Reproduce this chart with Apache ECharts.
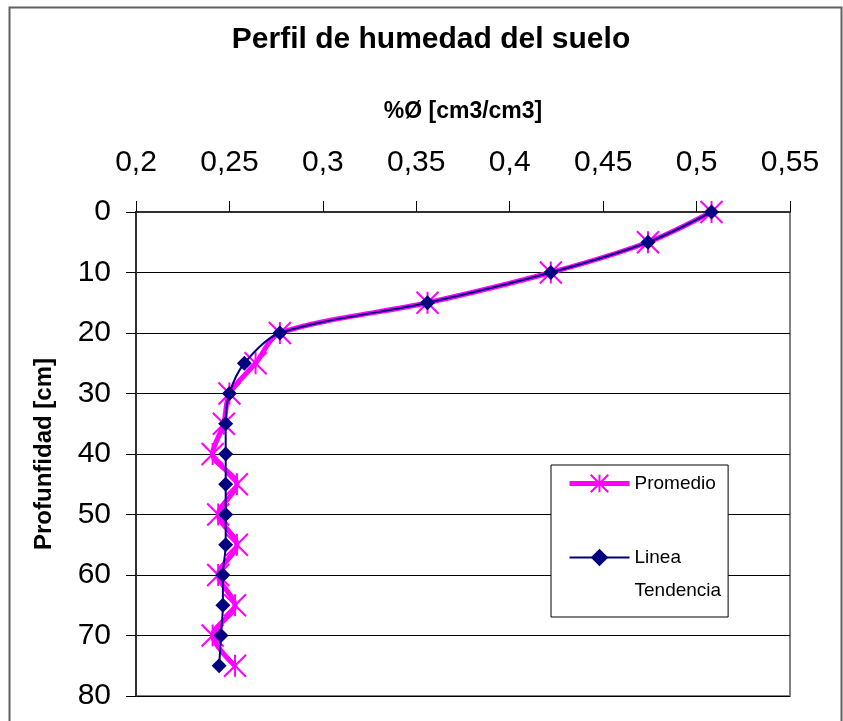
<!DOCTYPE html>
<html>
<head>
<meta charset="utf-8">
<title>Perfil de humedad del suelo</title>
<script src="https://cdn.jsdelivr.net/npm/echarts@6/dist/echarts.min.js"></script>
<style>
  html, body { margin: 0; padding: 0; background: #ffffff; }
  #chart { width: 843px; height: 721px; }
</style>
</head>
<body>
<div id="chart"></div>
<script>
// Soil moisture profile: depth [cm] against volumetric water content [cm3/cm3]
const depths = [0, 5, 10, 15, 20, 25, 30, 35, 40, 45, 50, 55, 60, 65, 70, 75];
const promedio = [0.508, 0.474, 0.422, 0.356, 0.277, 0.264, 0.250, 0.247, 0.241, 0.254, 0.244, 0.254, 0.244, 0.253, 0.241, 0.253];
const tendencia = [0.508, 0.474, 0.422, 0.356, 0.277, 0.258, 0.250, 0.248, 0.248, 0.248, 0.248, 0.248, 0.2465, 0.2465, 0.2455, 0.2445];
const xTickLabels = ['0,2', '0,25', '0,3', '0,35', '0,4', '0,45', '0,5', '0,55'];
const yTickLabels = ['0', '10', '20', '30', '40', '50', '60', '70', '80'];

const FONT = '"Liberation Sans", Arial, sans-serif';
const ASTERISK = 'path://M0,0L20,20M20,0L0,20M10,0L10,20';

const pairs = (xs) => xs.map((v, i) => [v, depths[i]]);

const chart = echarts.init(document.getElementById('chart'), null, { renderer: 'canvas' });

chart.setOption({
  animation: false,
  backgroundColor: '#ffffff',
  textStyle: { fontFamily: FONT },
  graphic: [{
    type: 'rect',
    left: 7, top: 5,
    shape: { width: 832, height: 730 },
    style: { fill: 'none', stroke: '#606060', lineWidth: 2 },
    silent: true, z: -10
  }],
  title: {
    text: 'Perfil de humedad del suelo',
    left: 426, top: 20, textAlign: 'center',
    textStyle: { fontFamily: FONT, fontSize: 30, fontWeight: 'bold', color: '#000' }
  },
  grid: {
    left: 136, top: 212, width: 654, height: 484,
    show: true, backgroundColor: '#ffffff',
    borderColor: '#808080', borderWidth: 2
  },
  legend: {
    orient: 'vertical',
    left: 551, top: 465,
    padding: [2, 7, 10, 16],
    itemGap: 8, itemWidth: 60, itemHeight: 22,
    backgroundColor: '#ffffff', borderColor: '#000000', borderWidth: 1,
    data: [
      { name: 'Promedio', lineStyle: { width: 5 } },
      { name: 'Linea Tendencia', lineStyle: { width: 2 } }
    ],
    formatter: (name) => name === 'Linea Tendencia' ? '\nLinea\nTendencia' : name,
    textStyle: { fontFamily: FONT, fontSize: 19, lineHeight: 33, color: '#000' }
  },
  xAxis: {
    type: 'value', position: 'top',
    min: 0.2, max: 0.55, interval: 0.05,
    name: '%Ø [cm3/cm3]', nameLocation: 'middle', nameGap: 89,
    nameTextStyle: { fontFamily: FONT, fontSize: 23, fontWeight: 'bold', color: '#000' },
    axisLine: { show: true, onZero: false, lineStyle: { color: '#303030', width: 2 } },
    axisTick: { show: true, inside: false, length: 11, lineStyle: { color: '#000', width: 1 } },
    axisLabel: {
      margin: 34, fontFamily: FONT, fontSize: 30, color: '#000',
      formatter: (v, i) => xTickLabels[i]
    },
    splitLine: { show: false }
  },
  yAxis: {
    type: 'value', inverse: true,
    min: 0, max: 80, interval: 10,
    name: 'Profunfidad [cm]', nameLocation: 'middle', nameGap: 80,
    nameTextStyle: { fontFamily: FONT, fontSize: 24, fontWeight: 'bold', color: '#000' },
    axisLine: { show: true, onZero: false, lineStyle: { color: '#303030', width: 2 } },
    axisTick: { show: true, inside: false, length: 10, lineStyle: { color: '#000', width: 1 } },
    axisLabel: {
      margin: 25, fontFamily: FONT, fontSize: 30, color: '#000',
      formatter: (v, i) => yTickLabels[i]
    },
    splitLine: { show: true, lineStyle: { color: '#000000', width: 1 } }
  },
  series: [
    {
      name: 'Promedio',
      type: 'line',
      data: pairs(promedio),
      smooth: 0.3,
      symbol: ASTERISK,
      symbolSize: 22,
      lineStyle: { color: '#ff00ff', width: 5 },
      itemStyle: { color: '#ff00ff', borderColor: '#ff00ff', borderWidth: 2 },
      z: 2
    },
    {
      name: 'Linea Tendencia',
      type: 'line',
      data: pairs(tendencia),
      smooth: 0.3,
      symbol: 'diamond',
      symbolSize: 15,
      lineStyle: { color: '#000080', width: 2 },
      itemStyle: { color: '#000080' },
      z: 3
    }
  ]
});
</script>
</body>
</html>
